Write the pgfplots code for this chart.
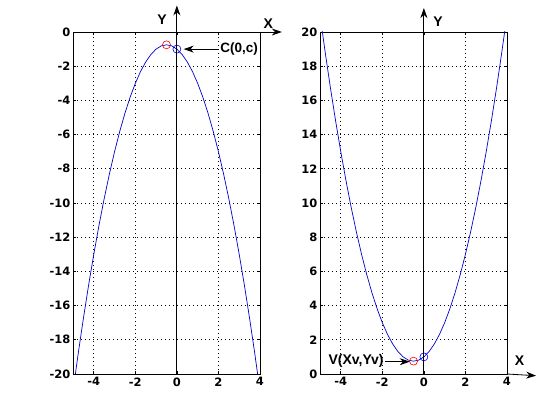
\documentclass[border=0pt]{standalone}
\usepackage{pgfplots}
\pgfplotsset{compat=1.18}
\usepackage{pgfplotstable}
\usepackage{fontspec}
\setmainfont{Liberation Sans}
\newfontfamily\tickfont{DejaVu Sans}
\usetikzlibrary{arrows.meta}

% y = -(x^2+x+1) and y = x^2+x+1, sampled every 0.25
\pgfplotstableread{
x      ydown     yup
-5     -21       21
-4.75  -18.8125  18.8125
-4.5   -16.75    16.75
-4.25  -14.8125  14.8125
-4     -13       13
-3.75  -11.3125  11.3125
-3.5   -9.75     9.75
-3.25  -8.3125   8.3125
-3     -7        7
-2.75  -5.8125   5.8125
-2.5   -4.75     4.75
-2.25  -3.8125   3.8125
-2     -3        3
-1.75  -2.3125   2.3125
-1.5   -1.75     1.75
-1.25  -1.3125   1.3125
-1     -1        1
-0.75  -0.8125   0.8125
-0.5   -0.75     0.75
-0.25  -0.8125   0.8125
0      -1        1
0.25   -1.3125   1.3125
0.5    -1.75     1.75
0.75   -2.3125   2.3125
1      -3        3
1.25   -3.8125   3.8125
1.5    -4.75     4.75
1.75   -5.8125   5.8125
2      -7        7
2.25   -8.3125   8.3125
2.5    -9.75     9.75
2.75   -11.3125  11.3125
3      -13       13
3.25   -14.8125  14.8125
3.5    -16.75    16.75
3.75   -18.8125  18.8125
4      -21       21
}\parab

\pgfplotsset{
  mstyle/.style={
    width=187bp, height=342bp, scale only axis,
    anchor=south west,
    xmin=-5, xmax=4, xtick={-4,-2,0,2,4},
    grid=major,
    major grid style={black, line width=0.8bp, dash pattern=on 1bp off 3bp},
    axis line style={line width=0.8bp},
    tick align=inside, major tick length=3bp,
    tick style={black, line width=0.6bp},
    ticklabel style={font=\fontsize{11.5bp}{13bp}\tickfont\bfseries},
    yticklabel style={xshift=1bp},
    /pgf/number format/assume math mode=true,
    clip mode=individual,
  },
  curve/.style={blue!80!black, line width=0.7bp, no marks},
}
\tikzset{
  lbl/.style={font=\fontsize{14bp}{16bp}\selectfont\bfseries, inner sep=0pt},
  bigarrow/.style={line width=0.8bp, -{Stealth[length=10bp,width=7bp]}},
}

\begin{document}
\begin{tikzpicture}
\path[use as bounding box] (0,0) rectangle (560bp,420bp);

% left: downward parabola
\begin{axis}[mstyle, at={(73bp,46bp)}, ymin=-20, ymax=0,
  ytick={-20,-18,...,0}]
\addplot[curve] table[x=x, y=ydown] {\parab};
\addplot[red, only marks, mark=o, mark size=4bp, line width=0.6bp] coordinates {(-0.5,-0.75)};
\addplot[blue, only marks, mark=o, mark size=4bp, line width=0.6bp] coordinates {(0,-1)};
\draw[bigarrow] (axis cs:0,-20) -- (axis cs:0,1.55);
\draw[bigarrow] (axis cs:4,0) -- (axis cs:5.05,0);
\node[lbl] at (axis cs:-0.72,0.7) {Y};
\node[lbl] at (axis cs:4.4,0.5) {X};
\draw[bigarrow] (axis cs:2.0,-1) -- (axis cs:0.33,-1);
\node[lbl, font=\fontsize{13.5bp}{16bp}\selectfont\bfseries, anchor=west] at (axis cs:2.08,-1) {C(0,c)};
\end{axis}

% right: upward parabola
\begin{axis}[mstyle, at={(320bp,46bp)}, ymin=0, ymax=20,
  ytick={0,2,...,20}]
\addplot[curve] table[x=x, y=yup] {\parab};
\addplot[red, only marks, mark=o, mark size=4bp, line width=0.6bp] coordinates {(-0.5,0.75)};
\addplot[blue, only marks, mark=o, mark size=4bp, line width=0.6bp] coordinates {(0,1)};
\draw[bigarrow] (axis cs:0,0) -- (axis cs:0,21.4);
\draw[bigarrow] (axis cs:4,0) -- (axis cs:5.4,-0.1);
\node[lbl] at (axis cs:0.68,20.6) {Y};
\node[lbl] at (axis cs:4.6,0.8) {X};
\draw[bigarrow] (axis cs:-1.85,0.72) -- (axis cs:-0.68,0.72);
\node[lbl, anchor=east] at (axis cs:-1.93,0.75) {V(Xv,Yv)};
\end{axis}
\end{tikzpicture}
\end{document}
